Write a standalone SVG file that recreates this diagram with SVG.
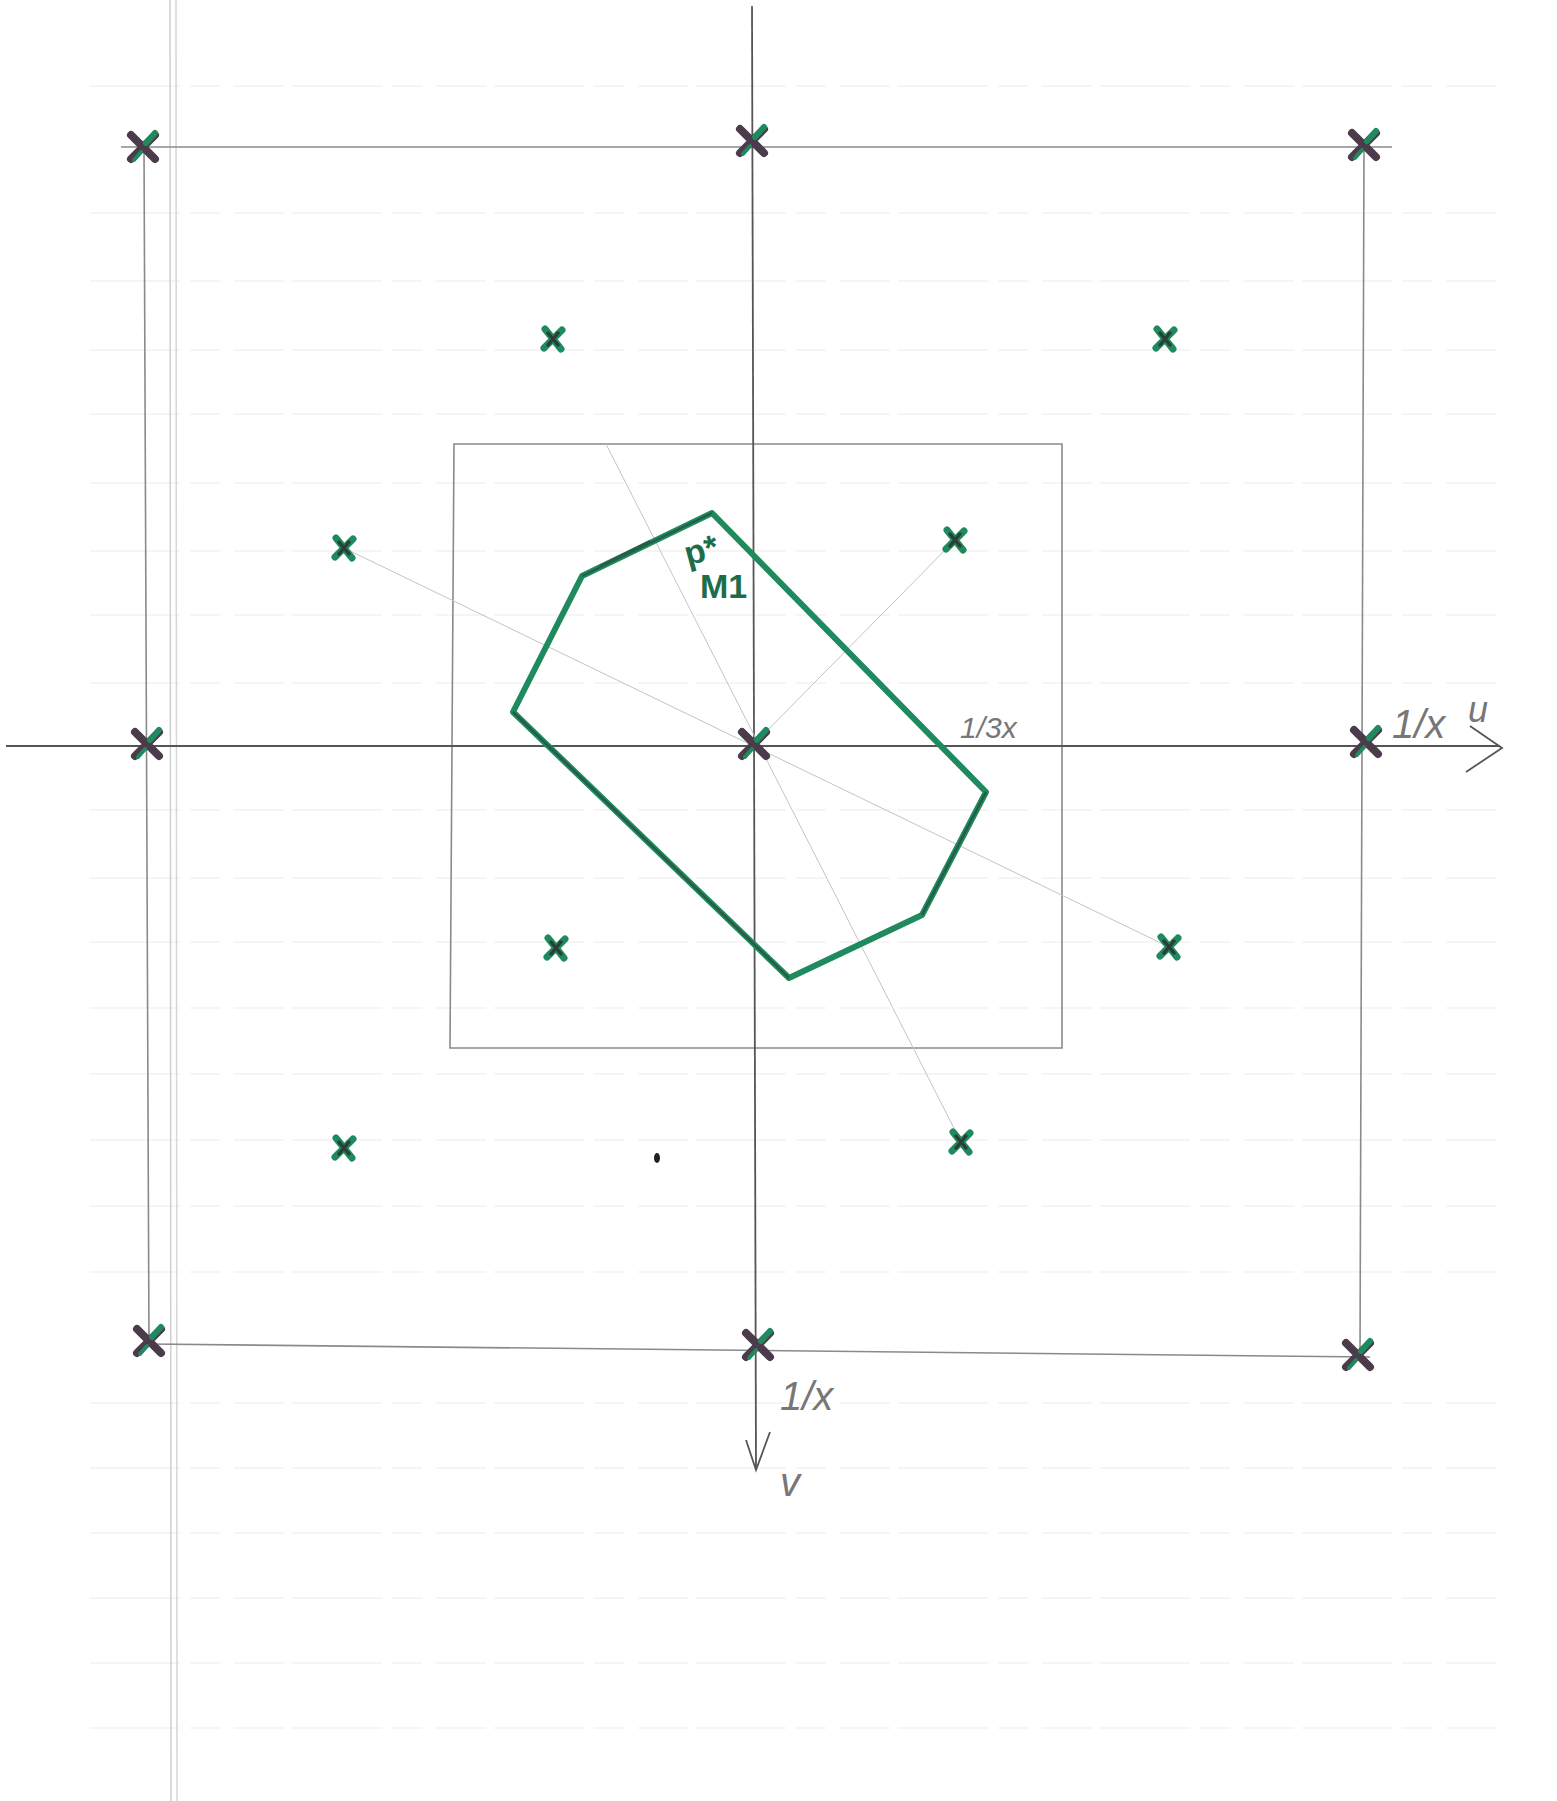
<svg xmlns="http://www.w3.org/2000/svg" width="1557" height="1801" viewBox="0 0 1557 1801">
<style>
.grid{stroke:#ececec;stroke-width:1.2;stroke-dasharray:90 10 30 14 50 8}
.pencil{stroke:#8a8a8a;stroke-width:1.6;fill:none}
.axis{stroke:#555;stroke-width:1.8;fill:none}
.faint{stroke:#c4c4c4;stroke-width:1;fill:none}
.poly{stroke:#1e8a5e;stroke-width:6;fill:none;stroke-linejoin:round}
.polyd{stroke:#2c3f36;stroke-width:2.5;fill:none;opacity:0.6}
.hand{font-family:"Liberation Sans",sans-serif;fill:#777;font-style:italic}
.ink{font-family:"Liberation Sans",sans-serif;fill:#1c6e4a;font-weight:bold}
</style>
<defs>
<g id="xm">
<path d="M-12,-12 L12,12 M-12,12 L12,-12" stroke="#4b3b4b" stroke-width="8" stroke-linecap="round"/>
<path d="M3,-4 L12,-14" stroke="#1e8a5e" stroke-width="6" stroke-linecap="round"/>
<path d="M-2,5 L-9,13" stroke="#1e8a5e" stroke-width="4" stroke-linecap="round"/>
</g>
<g id="xs">
<path d="M-8,-10 L8,10 M-9,9 L9,-9" stroke="#1e8a5e" stroke-width="7" stroke-linecap="round"/>
<path d="M-5,-6 L5,6 M-5,6 L5,-6" stroke="#2c3f36" stroke-width="3.5" stroke-linecap="round"/>
</g>
</defs>
<rect width="1557" height="1801" fill="#ffffff"/>
<g id="paper">
<line class="grid" x1="90" y1="86" x2="1500" y2="86"/>
<line class="grid" x1="90" y1="213" x2="1500" y2="213"/>
<line class="grid" x1="90" y1="281" x2="1500" y2="281"/>
<line class="grid" x1="90" y1="350" x2="1500" y2="350"/>
<line class="grid" x1="90" y1="414" x2="1500" y2="414"/>
<line class="grid" x1="90" y1="483" x2="1500" y2="483"/>
<line class="grid" x1="90" y1="551" x2="1500" y2="551"/>
<line class="grid" x1="90" y1="615" x2="1500" y2="615"/>
<line class="grid" x1="90" y1="683" x2="1500" y2="683"/>
<line class="grid" x1="90" y1="810" x2="1500" y2="810"/>
<line class="grid" x1="90" y1="878" x2="1500" y2="878"/>
<line class="grid" x1="90" y1="942" x2="1500" y2="942"/>
<line class="grid" x1="90" y1="1008" x2="1500" y2="1008"/>
<line class="grid" x1="90" y1="1074" x2="1500" y2="1074"/>
<line class="grid" x1="90" y1="1140" x2="1500" y2="1140"/>
<line class="grid" x1="90" y1="1206" x2="1500" y2="1206"/>
<line class="grid" x1="90" y1="1272" x2="1500" y2="1272"/>
<line class="grid" x1="90" y1="1403" x2="1500" y2="1403"/>
<line class="grid" x1="90" y1="1468" x2="1500" y2="1468"/>
<line class="grid" x1="90" y1="1533" x2="1500" y2="1533"/>
<line class="grid" x1="90" y1="1598" x2="1500" y2="1598"/>
<line class="grid" x1="90" y1="1663" x2="1500" y2="1663"/>
<line class="grid" x1="90" y1="1728" x2="1500" y2="1728"/>
<line x1="170" y1="0" x2="171" y2="1801" stroke="#cfcfcf" stroke-width="1.5"/>
<line x1="176" y1="0" x2="177" y2="1801" stroke="#d6d6d6" stroke-width="1.5"/>
</g>
<g id="connectors">
<path class="pencil" d="M121,147 L1392,147"/>
<path class="pencil" d="M144,147 L149,1346"/>
<path class="pencil" d="M1364,147 L1360,1355"/>
<path class="pencil" d="M149,1344 L1370,1357"/>
<path class="pencil" d="M454,444 L1062,444 L1062,1048 L450,1048 Z"/>
<path class="axis" d="M752,6 L756,1468"/>
<path class="axis" d="M6,746 L1500,746"/>
<path class="axis" d="M1470,726 L1502,748 L1466,772"/>
<path class="axis" d="M746,1440 L756,1470 L770,1432"/>
<path class="faint" d="M344,548 L1169,947"/>
<path class="faint" d="M754,744 L955,540"/>
<path class="faint" d="M606,444 L961,1142"/>
<path class="poly" d="M712,513 L582,576 L513,712 L789,978 L922,915 L986,792 Z"/>
<path class="polyd" d="M712,513 L582,576 M513,712 L789,978 M922,915 L986,792 M650,541 L600,566"/>
</g>
<g id="nodes">
<g id="n1"><use href="#xm" x="143" y="147"/></g>
<g id="n2"><use href="#xm" x="752" y="141"/></g>
<g id="n3"><use href="#xm" x="1364" y="145"/></g>
<g id="n4"><use href="#xs" x="553" y="339"/></g>
<g id="n5"><use href="#xs" x="1165" y="339"/></g>
<g id="n6"><use href="#xs" x="344" y="548"/></g>
<g id="n7"><use href="#xs" x="955" y="540"/></g>
<g id="n8"><use href="#xm" x="147" y="744"/></g>
<g id="n9"><use href="#xm" x="754" y="744"/></g>
<g id="n10"><use href="#xm" x="1366" y="742"/></g>
<g id="n11"><use href="#xs" x="556" y="948"/></g>
<g id="n12"><use href="#xs" x="1169" y="947"/></g>
<g id="n13"><use href="#xs" x="344" y="1148"/></g>
<g id="n14"><use href="#xs" x="961" y="1142"/></g>
<g id="n15"><use href="#xm" x="149" y="1341"/></g>
<g id="n16"><use href="#xm" x="758" y="1345"/></g>
<g id="n17"><use href="#xm" x="1358" y="1355"/></g>
</g>
<g id="labels">
<text class="ink" x="684" y="562" font-size="34" transform="rotate(-15 700 550)">p*</text>
<text class="ink" x="700" y="598" font-size="34">M1</text>
<text class="hand" x="960" y="738" font-size="30">1/3x</text>
<text class="hand" x="1392" y="738" font-size="40">1/x</text>
<text class="hand" x="1468" y="722" font-size="36">u</text>
<text class="hand" x="780" y="1410" font-size="40">1/x</text>
<text class="hand" x="780" y="1496" font-size="40">v</text>
<ellipse cx="657" cy="1158" rx="3" ry="5" fill="#222"/>
</g>
</svg>
